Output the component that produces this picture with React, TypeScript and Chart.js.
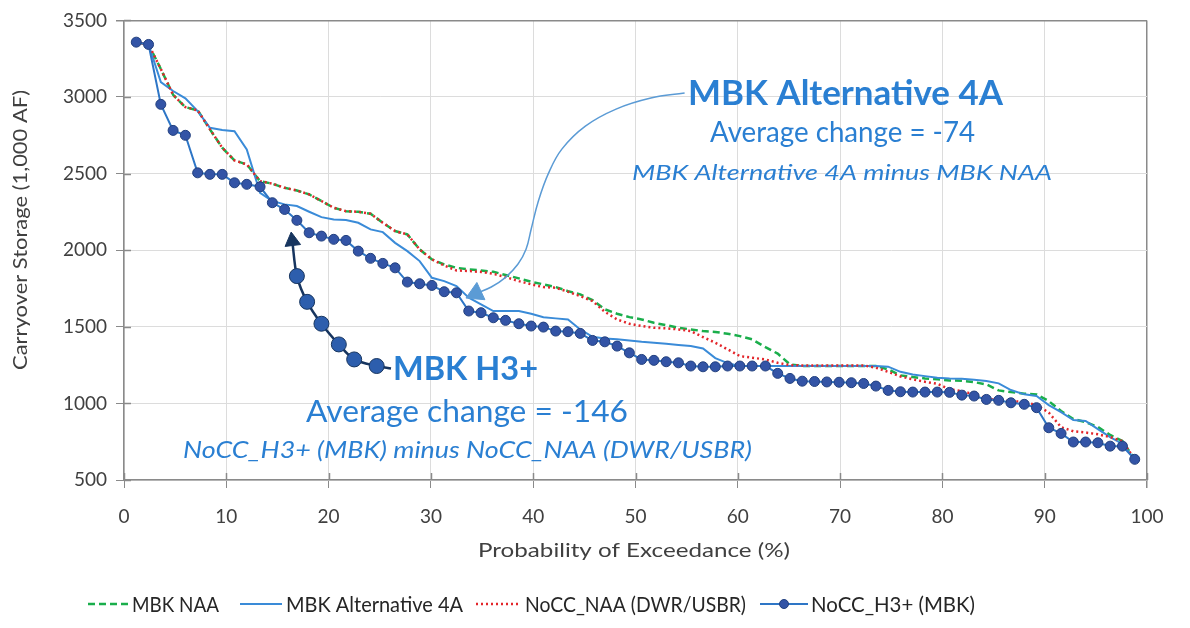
import React, { useEffect, useRef } from "react";
import { Chart, registerables } from "chart.js";

Chart.register(...registerables);

// ---------- data ----------
const exceedance = [
  1.2, 2.4, 3.6, 4.8, 6.0, 7.2, 8.4, 9.6, 10.8, 12.0,
  13.3, 14.5, 15.7, 16.9, 18.1, 19.3, 20.5, 21.7, 22.9, 24.1,
  25.3, 26.5, 27.7, 28.9, 30.1, 31.3, 32.5, 33.7, 34.9, 36.1,
  37.3, 38.6, 39.8, 41.0, 42.2, 43.4, 44.6, 45.8, 47.0, 48.2,
  49.4, 50.6, 51.8, 53.0, 54.2, 55.4, 56.6, 57.8, 59.0, 60.2,
  61.4, 62.7, 63.9, 65.1, 66.3, 67.5, 68.7, 69.9, 71.1, 72.3,
  73.5, 74.7, 75.9, 77.1, 78.3, 79.5, 80.7, 81.9, 83.1, 84.3,
  85.5, 86.7, 88.0, 89.2, 90.4, 91.6, 92.8, 94.0, 95.2, 96.4,
  97.6, 98.8,
];

const mbkNaa = [
  3358, 3343, 3183, 3014, 2934, 2913, 2789, 2669, 2586, 2560,
  2451, 2434, 2407, 2390, 2364, 2321, 2277, 2255, 2251, 2238,
  2179, 2125, 2103, 2005, 1940, 1907, 1885, 1875, 1868, 1859,
  1838, 1816, 1794, 1777, 1759, 1733, 1712, 1674, 1614, 1585,
  1563, 1548, 1526, 1511, 1494, 1483, 1472, 1466, 1455, 1439,
  1418, 1367, 1325, 1255, 1244, 1244, 1244, 1244, 1244, 1244,
  1244, 1222, 1183, 1172, 1163, 1157, 1150, 1148, 1139, 1124,
  1085, 1074, 1063, 1059, 1015, 950, 898, 878, 846, 794,
  754, 635,
];

const mbkAlt4A = [
  3358, 3343, 3097, 3039, 2991, 2908, 2799, 2784, 2777, 2658,
  2375, 2321, 2299, 2288, 2251, 2216, 2201, 2197, 2179, 2136,
  2118, 2048, 1994, 1929, 1820, 1798, 1766, 1690, 1646, 1603,
  1603, 1603, 1585, 1562, 1555, 1548, 1483, 1435, 1424, 1418,
  1411, 1402, 1396, 1389, 1381, 1374, 1358, 1296, 1263, 1244,
  1244, 1244, 1244, 1244, 1244, 1244, 1244, 1244, 1244, 1244,
  1244, 1240, 1206, 1189, 1178, 1167, 1162, 1161, 1154, 1146,
  1131, 1087, 1059, 1048, 989, 943, 891, 885, 832, 780,
  735, 635,
];

const noccNaa = [
  3358, 3343, 3183, 3014, 2934, 2913, 2789, 2669, 2586, 2560,
  2451, 2434, 2407, 2390, 2364, 2321, 2277, 2255, 2251, 2238,
  2179, 2125, 2103, 2005, 1940, 1900, 1868, 1864, 1858, 1846,
  1825, 1798, 1777, 1759, 1755, 1729, 1700, 1668, 1598, 1548,
  1520, 1505, 1494, 1490, 1483, 1472, 1433, 1396, 1353, 1309,
  1298, 1287, 1265, 1250, 1248, 1248, 1248, 1248, 1248, 1248,
  1233, 1206, 1176, 1157, 1141, 1128, 1092, 1080, 1059, 1033,
  1020, 1015, 1009, 990, 940, 845, 818, 810, 798, 780,
  754, 635,
];

const noccH3 = [
  3358, 3343, 2952, 2782, 2750, 2505, 2495, 2495, 2440, 2430,
  2414, 2310, 2266, 2195, 2114, 2092, 2071, 2064, 1994, 1947,
  1914, 1885, 1792, 1781, 1770, 1729, 1722, 1603, 1592, 1559,
  1542, 1520, 1505, 1498, 1472, 1468, 1457, 1411, 1402, 1374,
  1330, 1287, 1281, 1272, 1265, 1244, 1239, 1239, 1244, 1244,
  1244, 1244, 1196, 1163, 1145, 1143, 1140, 1138, 1135, 1130,
  1113, 1085, 1076, 1074, 1074, 1074, 1072, 1054, 1048, 1026,
  1020, 1004, 994, 972, 841, 804, 748, 748, 743, 721,
  721, 635,
];

// annotation arrow paths (in data units)
const h3ArrowX = [26.1, 24.7, 22.5, 21.0, 19.3, 17.9, 16.9, 16.45];
const h3ArrowY = [1228, 1244, 1287, 1385, 1520, 1663, 1831, 2060];
const alt4ArrowX = [54.8, 51.5, 48.1, 45.1, 42.8, 41.5, 40.5, 39.8, 39.3, 38.5, 37.3, 35.9, 34.4];
const alt4ArrowY = [3026, 2993, 2921, 2810, 2660, 2503, 2320, 2137, 2006, 1908, 1823, 1760, 1718];

const xTickValues = [0, 10, 20, 30, 40, 50, 60, 70, 80, 90, 100];
const yTickValues = [500, 1000, 1500, 2000, 2500, 3000, 3500];

const seriesLabels = ["MBK NAA", "MBK Alternative 4A", "NoCC_NAA (DWR/USBR)", "NoCC_H3+ (MBK)"];
const xTitle = "Probability of Exceedance (%)";
const yTitle = "Carryover Storage (1,000 AF)";
const annotationTexts = [
  "MBK Alternative 4A",
  "Average change = -74",
  "MBK Alternative 4A minus MBK NAA",
  "MBK H3+",
  "Average change = -146",
  "NoCC_H3+ (MBK) minus NoCC_NAA (DWR/USBR)",
];

// ---------- styles ----------
const FONT = "Lato, 'Open Sans', sans-serif";
const TEXT_GRAY = "#404040";
const ANN_BLUE = "#2a7fd2";
const AXIS_GRAY = "#8a8a8a";
const GRID_GRAY = "#dcdcdc";

function fittedText(
  ctx: CanvasRenderingContext2D,
  text: string,
  x: number,
  y: number,
  width: number,
  size: number,
  weight: string,
  style: string,
  color: string,
  baseline: CanvasTextBaseline = "alphabetic",
  rotate = 0
) {
  ctx.save();
  ctx.font = `${style} ${weight} ${size}px ${FONT}`;
  const w = ctx.measureText(text).width;
  ctx.translate(x, y);
  if (rotate) ctx.rotate(rotate);
  ctx.scale(width > 0 ? width / w : 1, 1);
  ctx.fillStyle = color;
  ctx.textBaseline = baseline;
  ctx.textAlign = "left";
  ctx.fillText(text, 0, 0);
  ctx.restore();
}

const annLayout = [
  { x: 688, y: 105, w: 315, size: 34, weight: "bold", style: "normal" },
  { x: 710, y: 142, w: 265, size: 28, weight: "normal", style: "normal" },
  { x: 632, y: 180, w: 420, size: 22, weight: "normal", style: "italic" },
  { x: 393, y: 380, w: 145, size: 33, weight: "bold", style: "normal" },
  { x: 306, y: 422, w: 322, size: 31, weight: "normal", style: "normal" },
  { x: 183, y: 458, w: 569, size: 24, weight: "normal", style: "italic" },
];

const legendLayout = [
  { x1: 88, x2: 129, tx: 132, tw: 87 },
  { x1: 240, x2: 282, tx: 286, tw: 177 },
  { x1: 476, x2: 520, tx: 525, tw: 221 },
  { x1: 760, x2: 808, tx: 811, tw: 164 },
];

const decorPlugin = {
  id: "decor",
  afterDraw(chart: any) {
    const ctx: CanvasRenderingContext2D = chart.ctx;
    const xs = chart.scales.x;
    const ys = chart.scales.y;
    const area = chart.chartArea;

    // inner halves of tick marks (ticks cross the axes)
    ctx.save();
    ctx.strokeStyle = AXIS_GRAY;
    ctx.lineWidth = 1.5;
    ctx.beginPath();
    for (const v of yTickValues) {
      const py = Math.round(ys.getPixelForValue(v)) + 0.5;
      ctx.moveTo(area.left, py);
      ctx.lineTo(area.left + 7, py);
    }
    for (const v of xTickValues) {
      const px = Math.round(xs.getPixelForValue(v)) + 0.5;
      ctx.moveTo(px, area.bottom);
      ctx.lineTo(px, area.bottom - 7);
    }
    ctx.stroke();
    ctx.restore();

    // axis titles
    fittedText(ctx, xTitle, 478, 551, 312, 19, "normal", "normal", TEXT_GRAY, "middle");
    fittedText(ctx, yTitle, 21, 370, 280, 19, "normal", "normal", TEXT_GRAY, "middle", -Math.PI / 2);

    // annotations
    annotationTexts.forEach((t, i) => {
      const l = annLayout[i];
      fittedText(ctx, t, l.x, l.y, l.w, l.size, l.weight, l.style, ANN_BLUE);
    });

    // legend
    [0, 1, 2, 3].forEach((i) => {
      const ds = chart.data.datasets[i + 2];
      const l = legendLayout[i];
      const cy = 604;
      ctx.save();
      ctx.strokeStyle = ds.borderColor;
      ctx.lineWidth = ds.borderWidth;
      ctx.setLineDash(ds.borderDash || []);
      ctx.beginPath();
      ctx.moveTo(l.x1, cy);
      ctx.lineTo(l.x2, cy);
      ctx.stroke();
      ctx.setLineDash([]);
      if (i === 3) {
        ctx.fillStyle = ds.pointBackgroundColor;
        ctx.strokeStyle = ds.pointBorderColor;
        ctx.lineWidth = 1;
        ctx.beginPath();
        ctx.arc((l.x1 + l.x2) / 2, cy, 4.5, 0, Math.PI * 2);
        ctx.fill();
        ctx.stroke();
      }
      ctx.restore();
      fittedText(ctx, seriesLabels[i], l.tx, cy + 1, l.tw, 21, "normal", "normal", "#262626", "middle");
    });
  },
};

function zip(xs: number[], ys: number[]) {
  return ys.map((y, i) => ({ x: xs[i], y }));
}

export default function App() {
  const ref = useRef<HTMLCanvasElement>(null);

  useEffect(() => {
    const canvas = ref.current;
    if (!canvas) return;
    const nH3 = h3ArrowX.length;
    const nAlt = alt4ArrowX.length;

    const chart = new Chart(canvas, {
      type: "line",
      data: {
        datasets: [
          {
            label: "h3-arrow",
            data: zip(h3ArrowX, h3ArrowY),
            borderColor: "#17355f",
            borderWidth: 2.5,
            tension: 0.3,
            pointStyle: h3ArrowX.map((_, i) => (i === nH3 - 1 ? "triangle" : "circle")),
            pointRadius: h3ArrowX.map((_, i) => (i === 0 ? 0 : i === nH3 - 1 ? 9 : 7.5)),
            pointRotation: h3ArrowX.map((_, i) => (i === nH3 - 1 ? -7 : 0)),
            pointBackgroundColor: h3ArrowX.map((_, i) => (i === nH3 - 1 ? "#17355f" : "#2d5ead")),
            pointBorderColor: "#17355f",
            pointBorderWidth: 1,
            order: 0,
          } as any,
          {
            label: "alt4-arrow",
            data: zip(alt4ArrowX, alt4ArrowY),
            borderColor: "#5b9bd5",
            borderWidth: 1.5,
            tension: 0.4,
            pointStyle: "triangle",
            pointRadius: alt4ArrowX.map((_, i) => (i === nAlt - 1 ? 11 : 0)),
            pointRotation: 245,
            pointBackgroundColor: "#5b9bd5",
            pointBorderColor: "#5b9bd5",
            pointBorderWidth: 1,
            order: 0,
          } as any,
          {
            label: seriesLabels[0],
            data: zip(exceedance, mbkNaa),
            borderColor: "#1aae4b",
            borderWidth: 2.5,
            borderDash: [7, 4],
            pointRadius: 0,
            order: 4,
          },
          {
            label: seriesLabels[1],
            data: zip(exceedance, mbkAlt4A),
            borderColor: "#3a8bd8",
            borderWidth: 2,
            pointRadius: 0,
            order: 3,
          },
          {
            label: seriesLabels[2],
            data: zip(exceedance, noccNaa),
            borderColor: "#e3262b",
            borderWidth: 2.5,
            borderDash: [2, 3],
            pointRadius: 0,
            order: 2,
          },
          {
            label: seriesLabels[3],
            data: zip(exceedance, noccH3),
            borderColor: "#2e76c6",
            borderWidth: 2,
            pointRadius: 5,
            pointBackgroundColor: "#3354a6",
            pointBorderColor: "#22407e",
            pointBorderWidth: 1,
            order: 1,
          },
        ],
      },
      options: {
        responsive: false,
        animation: false,
        events: [],
        layout: { padding: { left: 0, right: 43, top: 19, bottom: 48 } },
        plugins: {
          legend: { display: false },
          tooltip: { enabled: false },
        },
        scales: {
          x: {
            type: "linear",
            min: 0,
            max: 100,
            afterFit: (s: any) => {
              s.height = 100;
            },
            afterBuildTicks: (s: any) => {
              s.ticks = xTickValues.map((v) => ({ value: v }));
            },
            ticks: {
              color: TEXT_GRAY,
              padding: 17,
              font: { family: FONT, size: 19 },
              maxRotation: 0,
              autoSkip: false,
              callback: (v: any) => String(v),
            },
            grid: {
              color: (c: any) => (c.tick && c.tick.value === 100 ? AXIS_GRAY : GRID_GRAY),
              lineWidth: (c: any) => (c.tick && c.tick.value === 100 ? 1.5 : 1),
              tickColor: AXIS_GRAY,
              tickLength: 8,
            },
            border: { color: AXIS_GRAY, width: 1.5 },
          },
          y: {
            type: "linear",
            min: 500,
            max: 3500,
            afterFit: (s: any) => {
              s.width = 124;
            },
            afterBuildTicks: (s: any) => {
              s.ticks = yTickValues.map((v) => ({ value: v }));
            },
            ticks: {
              color: TEXT_GRAY,
              padding: 9,
              font: { family: FONT, size: 19 },
              autoSkip: false,
              callback: (v: any) => String(v),
            },
            grid: {
              color: (c: any) => (c.tick && c.tick.value === 3500 ? AXIS_GRAY : GRID_GRAY),
              lineWidth: (c: any) => (c.tick && c.tick.value === 3500 ? 1.5 : 1),
              tickColor: AXIS_GRAY,
              tickLength: 8,
            },
            border: { color: AXIS_GRAY, width: 1.5 },
          },
        },
      },
      plugins: [decorPlugin],
    });

    return () => chart.destroy();
  }, []);

  return (
    <canvas
      ref={ref}
      width={1190}
      height={628}
      style={{ position: "fixed", left: 0, top: 0, width: 1190, height: 628, background: "#ffffff" }}
    />
  );
}
